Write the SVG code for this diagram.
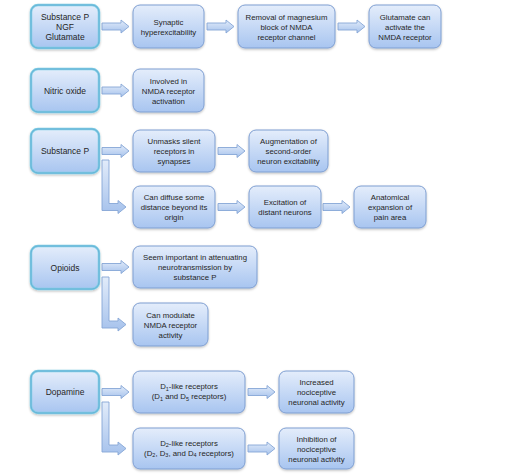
<svg xmlns="http://www.w3.org/2000/svg" xmlns:xlink="http://www.w3.org/1999/xlink" width="529" height="474" viewBox="0 0 529 474">
<defs>
<linearGradient id="gb" x1="0" y1="0" x2="0" y2="1">
<stop offset="0" stop-color="#e4edfb"/>
<stop offset="1" stop-color="#a8c5f0"/>
</linearGradient>
<linearGradient id="ga" x1="0" y1="0" x2="0" y2="1">
<stop offset="0" stop-color="#e2ecfa"/>
<stop offset="1" stop-color="#a6c2ec"/>
</linearGradient>
<filter id="sh" x="-10%" y="-10%" width="120%" height="130%">
<feDropShadow dx="0" dy="1.2" stdDeviation="0.9" flood-color="#000" flood-opacity="0.25"/>
</filter>
<path id="arr" d="M0,-3.5 H19 V-6.5 L27,0 L19,6.5 V3.5 H0 Z"/>
<style>
.box{fill:url(#gb);stroke:#7f9fd2;stroke-width:1;filter:url(#sh)}
.src{fill:url(#gb);stroke:#7fcfe6;stroke-width:2.5;filter:url(#sh)}
.src2{fill:none;stroke:#5fa6cf;stroke-width:0.8}
.ar{fill:url(#ga);stroke:#86a6d6;stroke-width:0.9}
text{font-family:"Liberation Sans",Arial,sans-serif;fill:#262626;text-anchor:middle}
.t1{font-size:8.5px}
.t2{font-size:7.8px}
.sub{font-size:5.5px}
</style>
</defs>
<rect width="529" height="474" fill="#ffffff"/>
<g id="connectors">
<use xlink:href="#arr" class="ar" x="102" y="26.5"/>
<use xlink:href="#arr" class="ar" x="207" y="26.5"/>
<use xlink:href="#arr" class="ar" x="338" y="26.5"/>
<use xlink:href="#arr" class="ar" x="102" y="90.5"/>
<use xlink:href="#arr" class="ar" x="102" y="151"/>
<use xlink:href="#arr" class="ar" x="218" y="151"/>
<use xlink:href="#arr" class="ar" x="218" y="207"/>
<use xlink:href="#arr" class="ar" x="323" y="207"/>
<use xlink:href="#arr" class="ar" x="102" y="267"/>
<use xlink:href="#arr" class="ar" x="102" y="392"/>
<use xlink:href="#arr" class="ar" x="248" y="392"/>
<use xlink:href="#arr" class="ar" x="248" y="448.5"/>
<path class="ar" d="M102,160 H109 V203.5 H118 V200.5 L126,207 L118,213.5 V210.5 H102 Z"/>
<path class="ar" d="M102,277 H109 V321 H118 V318 L126,324.5 L118,331 V328 H102 Z"/>
<path class="ar" d="M102,402 H109 V445 H118 V442 L126,448.5 L118,455 V452 H102 Z"/>
</g>
<g id="n1"><rect class="src" x="31" y="5" width="68" height="43" rx="7"/><rect class="src2" x="31" y="5" width="68" height="43" rx="7"/>
<text class="t1"><tspan x="65" y="19.5">Substance P</tspan><tspan x="65" y="29.5">NGF</tspan><tspan x="65" y="39.5">Glutamate</tspan></text></g>
<g id="n2"><rect class="box" x="133" y="5" width="71" height="43" rx="7"/>
<text class="t2"><tspan x="168.5" y="24.5">Synaptic</tspan><tspan x="168.5" y="34.5">hyperexcitability</tspan></text></g>
<g id="n3"><rect class="box" x="238" y="5" width="97" height="43" rx="7"/>
<text class="t2"><tspan x="286.5" y="19.5">Removal of magnesium</tspan><tspan x="286.5" y="29.5">block of NMDA</tspan><tspan x="286.5" y="39.5">receptor channel</tspan></text></g>
<g id="n4"><rect class="box" x="369" y="5" width="72" height="43" rx="7"/>
<text class="t2"><tspan x="405" y="19.5">Glutamate can</tspan><tspan x="405" y="29.5">activate the</tspan><tspan x="405" y="39.5">NMDA receptor</tspan></text></g>
<g id="n5"><rect class="src" x="31" y="69" width="68" height="43" rx="7"/><rect class="src2" x="31" y="69" width="68" height="43" rx="7"/>
<text class="t1" x="65" y="93.5">Nitric oxide</text></g>
<g id="n6"><rect class="box" x="133" y="69" width="71" height="43" rx="7"/>
<text class="t2"><tspan x="168.5" y="84">Involved in</tspan><tspan x="168.5" y="94">NMDA receptor</tspan><tspan x="168.5" y="104">activation</tspan></text></g>
<g id="n7"><rect class="src" x="31" y="129" width="68" height="44" rx="7"/><rect class="src2" x="31" y="129" width="68" height="44" rx="7"/>
<text class="t1" x="65" y="154">Substance P</text></g>
<g id="n8"><rect class="box" x="133" y="130" width="82" height="42" rx="7"/>
<text class="t2"><tspan x="174" y="144">Unmasks silent</tspan><tspan x="174" y="154">receptors in</tspan><tspan x="174" y="164">synapses</tspan></text></g>
<g id="n9"><rect class="box" x="249" y="130" width="79" height="42" rx="7"/>
<text class="t2"><tspan x="288.5" y="144">Augmentation of</tspan><tspan x="288.5" y="154">second-order</tspan><tspan x="288.5" y="164">neuron excitability</tspan></text></g>
<g id="n10"><rect class="box" x="133" y="186" width="82" height="42" rx="7"/>
<text class="t2"><tspan x="174" y="200">Can diffuse some</tspan><tspan x="174" y="210">distance beyond its</tspan><tspan x="174" y="220">origin</tspan></text></g>
<g id="n11"><rect class="box" x="249" y="186" width="72" height="42" rx="7"/>
<text class="t2"><tspan x="285" y="205">Excitation of</tspan><tspan x="285" y="215">distant neurons</tspan></text></g>
<g id="n12"><rect class="box" x="354" y="186" width="72" height="42" rx="7"/>
<text class="t2"><tspan x="390" y="200">Anatomical</tspan><tspan x="390" y="210">expansion of</tspan><tspan x="390" y="220">pain area</tspan></text></g>
<g id="n13"><rect class="src" x="31" y="246" width="68" height="43" rx="7"/><rect class="src2" x="31" y="246" width="68" height="43" rx="7"/>
<text class="t1" x="65" y="270.5">Opioids</text></g>
<g id="n14"><rect class="box" x="133" y="246" width="124" height="42" rx="7"/>
<text class="t2"><tspan x="195" y="260">Seem important in attenuating</tspan><tspan x="195" y="270">neurotransmission by</tspan><tspan x="195" y="280">substance P</tspan></text></g>
<g id="n15"><rect class="box" x="133" y="303" width="75" height="43" rx="7"/>
<text class="t2"><tspan x="170.5" y="317.5">Can modulate</tspan><tspan x="170.5" y="327.5">NMDA receptor</tspan><tspan x="170.5" y="337.5">activity</tspan></text></g>
<g id="n16"><rect class="src" x="31" y="371" width="68" height="42" rx="7"/><rect class="src2" x="31" y="371" width="68" height="42" rx="7"/>
<text class="t1" x="65" y="395">Dopamine</text></g>
<g id="n17"><rect class="box" x="133" y="371" width="112" height="42" rx="7"/>
<text class="t2"><tspan x="189" y="389">D<tspan class="sub" dy="1.5">1</tspan><tspan dy="-1.5">-like receptors</tspan></tspan><tspan x="189" y="399">(D<tspan class="sub" dy="1.5">1</tspan><tspan dy="-1.5"> and D</tspan><tspan class="sub" dy="1.5">5</tspan><tspan dy="-1.5"> receptors)</tspan></tspan></text></g>
<g id="n18"><rect class="box" x="279" y="371" width="75" height="42" rx="7"/>
<text class="t2"><tspan x="316.5" y="385">Increased</tspan><tspan x="316.5" y="395">nociceptive</tspan><tspan x="316.5" y="405">neuronal activity</tspan></text></g>
<g id="n19"><rect class="box" x="133" y="428" width="112" height="41" rx="7"/>
<text class="t2"><tspan x="189" y="445.5">D<tspan class="sub" dy="1.5">2</tspan><tspan dy="-1.5">-like receptors</tspan></tspan><tspan x="189" y="455.5">(D<tspan class="sub" dy="1.5">2</tspan><tspan dy="-1.5">, D</tspan><tspan class="sub" dy="1.5">3</tspan><tspan dy="-1.5">, and D</tspan><tspan class="sub" dy="1.5">4</tspan><tspan dy="-1.5"> receptors)</tspan></tspan></text></g>
<g id="n20"><rect class="box" x="279" y="428" width="75" height="41" rx="7"/>
<text class="t2"><tspan x="316.5" y="441.5">Inhibition of</tspan><tspan x="316.5" y="451.5">nociceptive</tspan><tspan x="316.5" y="461.5">neuronal activity</tspan></text></g>
</svg>
